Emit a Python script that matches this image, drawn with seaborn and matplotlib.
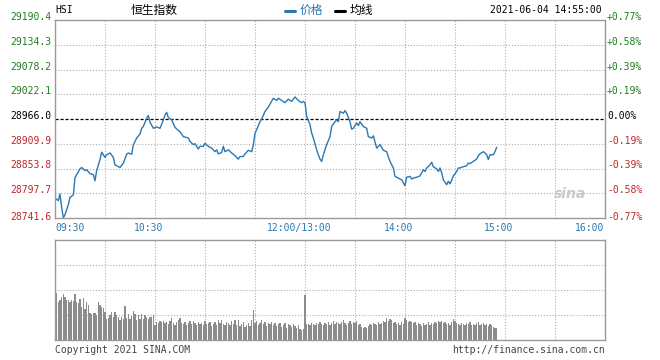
import numpy as np
import pandas as pd
import matplotlib
matplotlib.use("Agg")
import matplotlib.pyplot as plt
import matplotlib.transforms as mtrans
from matplotlib.lines import Line2D
import seaborn as sns

# ---------------- data ----------------
prev_close = 28966.0
price_ticks = [28741.6, 28797.7, 28853.8, 28909.9, 28966.0, 29022.1, 29078.2, 29134.3, 29190.4]
pct_labels = ["-0.77%", "-0.58%", "-0.39%", "-0.19%", "0.00%", "+0.19%", "+0.39%", "+0.58%", "+0.77%"]
time_labels = ["09:30", "10:30", "12:00/13:00", "14:00", "15:00", "16:00"]
time_label_minutes = [0, 60, 150, 210, 270, 330]   # trading minutes since 09:30 (lunch collapsed)

price_minutes = [
    0, 2, 3, 4, 5, 6, 8, 9, 11, 12, 13, 15, 16, 18, 19, 21, 23, 24, 25, 27,
    28, 30, 31, 33, 35, 36, 38, 39, 41, 43, 44, 46, 47, 49, 51, 52, 53, 55, 56, 57,
    59, 61, 63, 64, 66, 67, 68, 70, 72, 74, 75, 77, 80, 81, 83, 84, 86, 87, 89, 90,
    92, 94, 96, 97, 98, 100, 101, 102, 104, 106, 108, 110, 111, 113, 114, 116, 118, 119, 120, 121,
    123, 124, 126, 128, 130, 131, 133, 134, 136, 138, 140, 142, 144, 146, 148, 149, 150, 151, 153, 154,
    155, 157, 158, 159, 160, 161, 163, 165, 166, 168, 169, 170, 171, 173, 174, 175, 177, 178, 179, 181,
    182, 183, 185, 187, 188, 190, 191, 193, 195, 197, 199, 200, 201, 203, 204, 206, 208, 209, 210, 211,
    213, 214, 215, 217, 219, 221, 222, 223, 225, 226, 227, 229, 230, 231, 232, 233, 235, 236, 237, 238,
    239, 241, 242, 243, 245, 247, 248, 249, 251, 253, 254, 255, 257, 258, 259, 260, 261, 263, 264, 265,
]
price_values = [
    28787, 28781, 28796, 28765, 28742, 28749, 28772, 28788, 28794, 28833, 28840, 28853, 28856, 28849, 28851, 28842, 28840, 28826, 28849, 28874,
    28891, 28879, 28885, 28889, 28879, 28862, 28858, 28856, 28866, 28886, 28889, 28886, 28907, 28923, 28932, 28945, 28949, 28968, 28974, 28959,
    28945, 28948, 28945, 28954, 28975, 28981, 28969, 28964, 28947, 28940, 28937, 28926, 28923, 28915, 28908, 28910, 28898, 28904, 28904, 28911,
    28904, 28900, 28892, 28896, 28887, 28890, 28904, 28892, 28896, 28889, 28883, 28875, 28881, 28881, 28887, 28895, 28892, 28907, 28934, 28942,
    28960, 28966, 28983, 28993, 29006, 29013, 29008, 29013, 29008, 29003, 29011, 29006, 29016, 29008, 29003, 29006, 29003, 28972, 28953, 28934,
    28923, 28896, 28885, 28875, 28870, 28885, 28908, 28926, 28949, 28960, 28964, 28960, 28983, 28979, 28985, 28979, 28960, 28943, 28945, 28957,
    28951, 28960, 28949, 28945, 28926, 28923, 28928, 28900, 28908, 28895, 28892, 28880, 28870, 28855, 28836, 28832, 28828, 28821, 28815, 28834,
    28836, 28830, 28832, 28834, 28837, 28851, 28847, 28855, 28862, 28868, 28858, 28853, 28847, 28855, 28844, 28828, 28817, 28825, 28819, 28827,
    28837, 28847, 28855, 28855, 28858, 28860, 28866, 28865, 28870, 28875, 28883, 28887, 28892, 28889, 28885, 28874, 28885, 28885, 28892, 28902,
]

# relative per-minute volume (panel full scale = 100), minutes 1..265
volume = [
    47, 38, 40, 43, 46, 43, 40, 40, 38, 40, 39, 46, 38, 37, 41, 33, 42, 31, 38, 35,
    27, 26, 27, 27, 25, 38, 35, 33, 32, 28, 21, 22, 25, 28, 23, 28, 25, 23, 20, 23,
    21, 34, 22, 26, 21, 24, 29, 26, 20, 25, 21, 26, 21, 25, 23, 21, 23, 23, 25, 15,
    18, 17, 19, 18, 19, 17, 18, 16, 19, 22, 17, 15, 18, 20, 22, 17, 16, 18, 15, 17,
    19, 16, 19, 17, 15, 18, 16, 17, 15, 19, 16, 17, 18, 14, 16, 18, 15, 20, 17, 20,
    16, 15, 18, 17, 15, 19, 16, 20, 15, 20, 14, 16, 18, 13, 15, 17, 14, 20, 30, 17,
    19, 15, 17, 20, 16, 18, 14, 17, 16, 18, 15, 17, 14, 16, 17, 13, 15, 17, 12, 16,
    15, 13, 16, 14, 12, 15, 11, 10, 11, 45,
    16, 16, 15, 17, 16, 15, 17, 16, 18, 16, 15, 17, 16, 18, 15, 17, 19, 16, 18, 17,
    16, 18, 20, 17, 15, 17, 19, 16, 18, 17, 19, 15, 16, 13, 12, 13, 12, 14, 16, 15,
    17, 16, 15, 18, 16, 17, 19, 18, 22, 19, 21, 20, 17, 18, 16, 17, 15, 18, 16, 22,
    20, 18, 19, 18, 17, 18, 15, 17, 16, 14, 17, 15, 16, 18, 15, 17, 16, 18, 17, 19,
    18, 19, 17, 18, 16, 17, 15, 18, 21, 19, 17, 16, 15, 17, 16, 15, 17, 16, 18, 15,
    16, 15, 17, 18, 15, 16, 17, 15, 16, 14, 16, 15, 13, 12, 12,
]
volume_minutes = list(range(1, len(volume) + 1))
volume_axis_max = 100

# ---------------- style ----------------
sns.set_style("white")
plt.rcParams["font.family"] = ["DejaVu Sans Mono", "Noto Sans CJK SC"]

W, H = 660, 360
fig = plt.figure(figsize=(W / 100, H / 100), dpi=100)
ax = fig.add_axes([55 / W, 1 - 218 / H, 550 / W, 198 / H])
axv = fig.add_axes([55 / W, 1 - 340 / H, 550 / W, 100 / H])

line_blue = "#2b78b2"
green = "#1f7f1f"
red = "#c0262a"
border = "#9a9a9a"
gridc = "#b0b0b0"
dotted = (0, (1, 1.6))

price_df = pd.DataFrame({"minute": price_minutes, "price": price_values})
vol_df = pd.DataFrame({"minute": volume_minutes, "volume": volume})

sns.lineplot(data=price_df, x="minute", y="price", ax=ax, color=line_blue, lw=1.0)
sns.histplot(data=vol_df, x="minute", weights="volume", discrete=True, shrink=0.62,
             color="#8c8c8c", alpha=1.0, linewidth=0, ax=axv)

ax.set_xlim(0, 330)
ax.set_ylim(price_ticks[0], price_ticks[-1])
axv.set_xlim(0, 330)
axv.set_ylim(0, volume_axis_max)

for a in (ax, axv):
    a.set_xticks([])
    a.set_yticks([])
    a.set_xlabel("")
    a.set_ylabel("")
    for s in a.spines.values():
        s.set_color(border)
        s.set_linewidth(1.0)
    for m in range(30, 330, 30):
        a.axvline(m, color=gridc, lw=0.8, ls=dotted, zorder=0)

for v in price_ticks[1:-1]:
    if v == prev_close:
        ax.axhline(v, color="black", lw=0.9, ls=(0, (2.5, 1.5)), zorder=1)
    else:
        ax.axhline(v, color=gridc, lw=0.8, ls=dotted, zorder=0)
for f in (0.25, 0.5, 0.75):
    axv.axhline(volume_axis_max * f, color=gridc, lw=0.8, ls=dotted, zorder=0)

# y labels
fs = 7
trans_left = mtrans.blended_transform_factory(ax.transAxes, ax.transData)
for i, (v, p) in enumerate(zip(price_ticks, pct_labels)):
    col = green if v > prev_close else (red if v < prev_close else "black")
    up = 1 if i == 0 else 3
    tl = mtrans.offset_copy(trans_left, fig=fig, x=-4, y=up, units="dots")
    ax.text(0, v, f"{v:.1f}", transform=tl, ha="right", va="center", fontsize=fs, color=col)
    tr = mtrans.offset_copy(trans_left, fig=fig, x=2, y=up, units="dots")
    ax.text(1, v, p, transform=tr, ha="left", va="center", fontsize=fs, color=col)

# x labels
trans_bot = mtrans.blended_transform_factory(ax.transData, ax.transAxes)
for lab, m in zip(time_labels, time_label_minutes):
    if m == 0:
        ha, dx = "left", 0
    elif m == 330:
        ha, dx = "right", -1
    else:
        ha, dx = "center", -6
    t = mtrans.offset_copy(trans_bot, fig=fig, x=dx, y=-10, units="dots")
    ax.text(m, 0, lab, transform=t, ha=ha, va="center", fontsize=fs, color="#2a7ab0")

# header texts
def fy(py):
    return 1 - py / H

fig.text(55 / W, fy(10), "HSI", fontsize=fs, ha="left", va="center", color="black")
fig.text(131 / W, fy(10), "恒生指数", fontsize=8.5, ha="left", va="center", color="black",
         family=["Noto Sans CJK SC", "DejaVu Sans"])
fig.add_artist(Line2D([285 / W, 295 / W], [fy(11), fy(11)], color=line_blue, lw=2.2,
                      transform=fig.transFigure))
fig.text(300 / W, fy(10), "价格", fontsize=8.5, ha="left", va="center", color=line_blue,
         family=["Noto Sans CJK SC", "DejaVu Sans"])
fig.add_artist(Line2D([335 / W, 345 / W], [fy(11), fy(11)], color="black", lw=2.2,
                      transform=fig.transFigure))
fig.text(350 / W, fy(10), "均线", fontsize=8.5, ha="left", va="center", color="black",
         family=["Noto Sans CJK SC", "DejaVu Sans"])
fig.text(602 / W, fy(10), "2021-06-04 14:55:00", fontsize=fs, ha="right", va="center", color="black")

# footer
fig.text(55 / W, fy(350), "Copyright 2021 SINA.COM", fontsize=fs, ha="left", va="center", color="#444444")
fig.text(605 / W, fy(350), "http://finance.sina.com.cn", fontsize=fs, ha="right", va="center", color="#444444")

# watermark
ax.text(0.965, 0.12, "sina", transform=ax.transAxes, ha="right", va="center",
        fontsize=10, color="#c9c9c9", style="italic", fontweight="bold", family="DejaVu Sans")

fig.savefig("out.png", dpi=100)
